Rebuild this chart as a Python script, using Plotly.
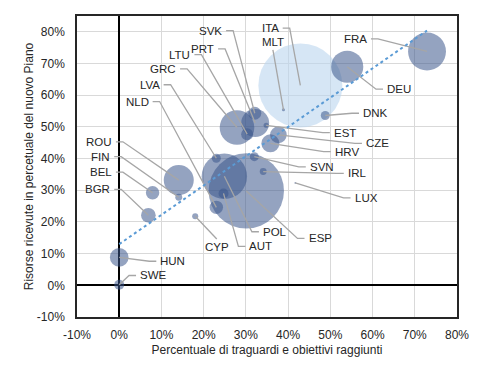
import plotly.graph_objects as go

# ---- data ----
countries = ["ITA", "ESP", "POL", "FRA", "GRC", "DEU", "ROU", "PRT", "HUN", "HRV",
             "CZE", "BGR", "NLD", "BEL", "SVK", "LTU", "AUT", "SWE", "LVA", "SVN",
             "DNK", "FIN", "IRL", "CYP", "EST", "MLT", "LUX"]
pct_targets = [0.429, 0.301, 0.249, 0.729, 0.279, 0.540, 0.141, 0.322, 0.000, 0.358,
               0.377, 0.069, 0.230, 0.079, 0.321, 0.303, 0.247, 0.000, 0.230, 0.320,
               0.488, 0.141, 0.341, 0.180, 0.348, 0.389, 0.417]
pct_resources = [0.631, 0.298, 0.344, 0.738, 0.498, 0.690, 0.332, 0.512, 0.088, 0.448,
                 0.475, 0.221, 0.246, 0.292, 0.543, 0.477, 0.290, 0.002, 0.401, 0.406,
                 0.536, 0.278, 0.359, 0.218, 0.505, 0.554, 0.323]
plan_size = [191.5, 154.0, 56.0, 39.0, 32.5, 28.0, 24.5, 21.3, 9.4, 8.8,
             7.5, 5.8, 4.9, 4.9, 4.6, 3.9, 2.7, 2.7, 2.2, 2.2,
             2.2, 1.3, 1.3, 1.0, 0.7, 0.25, 0.08]
highlight = ["ITA"]

trend_x = [0.0, 0.729]
trend_y = [0.13, 0.804]

x_ticks = [-0.1, 0.0, 0.1, 0.2, 0.3, 0.4, 0.5, 0.6, 0.7, 0.8]
x_tick_labels = ["-10%", "0%", "10%", "20%", "30%", "40%", "50%", "60%", "70%", "80%"]
y_ticks = [-0.1, 0.0, 0.1, 0.2, 0.3, 0.4, 0.5, 0.6, 0.7, 0.8]
y_tick_labels = ["-10%", "0%", "10%", "20%", "30%", "40%", "50%", "60%", "70%", "80%"]
x_title = "Percentuale di traguardi e obiettivi raggiunti"
y_title = "Risorse ricevute in percetuale del nuovo Piano"

# ---- label placement (layout: label text centres, in axis units) ----
label_pos = {
    "ITA": (0.354, 0.812), "ESP": (0.472, 0.148), "POL": (0.364, 0.169),
    "FRA": (0.563, 0.778), "GRC": (0.111, 0.683), "DEU": (0.658, 0.619),
    "ROU": (-0.041, 0.453), "PRT": (0.201, 0.746), "HUN": (0.121, 0.076),
    "HRV": (0.534, 0.422), "CZE": (0.608, 0.448), "BGR": (-0.045, 0.303),
    "NLD": (0.046, 0.580), "BEL": (-0.041, 0.357), "SVK": (0.220, 0.804),
    "LTU": (0.145, 0.728), "AUT": (0.332, 0.123), "SWE": (0.073, 0.031),
    "LVA": (0.072, 0.633), "SVN": (0.475, 0.374), "DNK": (0.601, 0.543),
    "FIN": (-0.045, 0.406), "IRL": (0.565, 0.353), "CYP": (0.231, 0.121),
    "EST": (0.532, 0.482), "MLT": (0.364, 0.768), "LUX": (0.581, 0.276),
}

X_RANGE = [-0.1, 0.8]
Y_RANGE = [-0.1, 0.85]
PLOT_W, PLOT_H = 380, 301
UX = (X_RANGE[1] - X_RANGE[0]) / PLOT_W   # axis units per pixel
UY = (Y_RANGE[1] - Y_RANGE[0]) / PLOT_H

FONT = "Liberation Sans, Arial, sans-serif"
TXT = "#262626"
LEAD = "#a6a6a6"
sizeref = 2 * max(plan_size) / (84 ** 2)

fig = go.Figure()

hi = [i for i, c in enumerate(countries) if c in highlight]
lo = [i for i, c in enumerate(countries) if c not in highlight]

fig.add_trace(go.Scatter(
    x=[pct_targets[i] for i in hi], y=[pct_resources[i] for i in hi],
    mode="markers", text=[countries[i] for i in hi],
    marker=dict(size=[plan_size[i] for i in hi], sizemode="area", sizeref=sizeref,
                color="rgba(189,215,238,0.88)", line=dict(width=0)),
    showlegend=False, hoverinfo="text"))

fig.add_trace(go.Scatter(
    x=[pct_targets[i] for i in lo], y=[pct_resources[i] for i in lo],
    mode="markers", text=[countries[i] for i in lo],
    marker=dict(size=[plan_size[i] for i in lo], sizemode="area", sizeref=sizeref,
                color="rgba(58,87,140,0.78)", line=dict(width=0)),
    showlegend=False, hoverinfo="text"))

# leader lines (label -> short horizontal elbow -> bubble)
HALF_W = 11   # px, half label width
HALF_H = 7    # px, half label height
GAP = 3
ELBOW = 7
lead_x, lead_y = [], []
for c, xv, yv in zip(countries, pct_targets, pct_resources):
    cx, cy = label_pos[c]
    side = 1 if xv > cx else -1          # +1 : label left of its bubble
    edge = cx + side * HALF_W * UX
    if abs(xv - edge) / UX < 12:
        # attach to the top or bottom of the label
        vs = 1 if yv > cy else -1
        sy = cy + vs * (HALF_H + 1) * UY
        lead_x += [cx, xv, None]
        lead_y += [sy, yv, None]
        xanchor = "center"
        ax_ = cx
    else:
        sx = edge + side * GAP * UX
        ex = sx + side * ELBOW * UX
        lead_x += [sx, ex, xv, None]
        lead_y += [cy, cy, yv, None]
        xanchor = "right" if side == 1 else "left"
        ax_ = edge
    fig.add_annotation(
        x=ax_, y=cy, xref="x", yref="y", text=c, showarrow=False,
        xanchor=xanchor, yanchor="middle", borderpad=0,
        font=dict(family=FONT, size=11.5, color=TXT))

fig.add_trace(go.Scatter(
    x=lead_x, y=lead_y, mode="lines", line=dict(color=LEAD, width=1.3),
    showlegend=False, hoverinfo="skip", connectgaps=False))

fig.add_trace(go.Scatter(
    x=trend_x, y=trend_y, mode="lines",
    line=dict(color="#5b9bd5", width=2, dash="dot"),
    showlegend=False, hoverinfo="skip"))

axis_common = dict(
    showgrid=True, gridcolor="#d9d9d9", gridwidth=1,
    zeroline=True, zerolinecolor="#000000", zerolinewidth=1.5,
    showline=True, linecolor="#262626", linewidth=1.5, mirror=True,
    ticks="", automargin=False,
    tickfont=dict(family=FONT, size=12, color=TXT),
)

fig.update_xaxes(range=X_RANGE, tickvals=x_ticks, ticktext=x_tick_labels,
                 ticklabelstandoff=6,
                 title=dict(text=x_title, font=dict(family=FONT, size=12, color=TXT),
                            standoff=4),
                 **axis_common)
fig.update_yaxes(range=Y_RANGE, tickvals=y_ticks, ticktext=y_tick_labels,
                 ticklabelstandoff=8,
                 title=dict(text=y_title, font=dict(family=FONT, size=12, color=TXT),
                            standoff=1),
                 **axis_common)

# the page body adds an 8px offset; margins compensate so the plot lands in place
fig.update_layout(
    width=490, height=374,
    margin=dict(l=69, r=41, t=8, b=65),
    plot_bgcolor="white", paper_bgcolor="white",
    font=dict(family=FONT, size=12, color=TXT),
    showlegend=False,
)

fig.write_html("out.html")
